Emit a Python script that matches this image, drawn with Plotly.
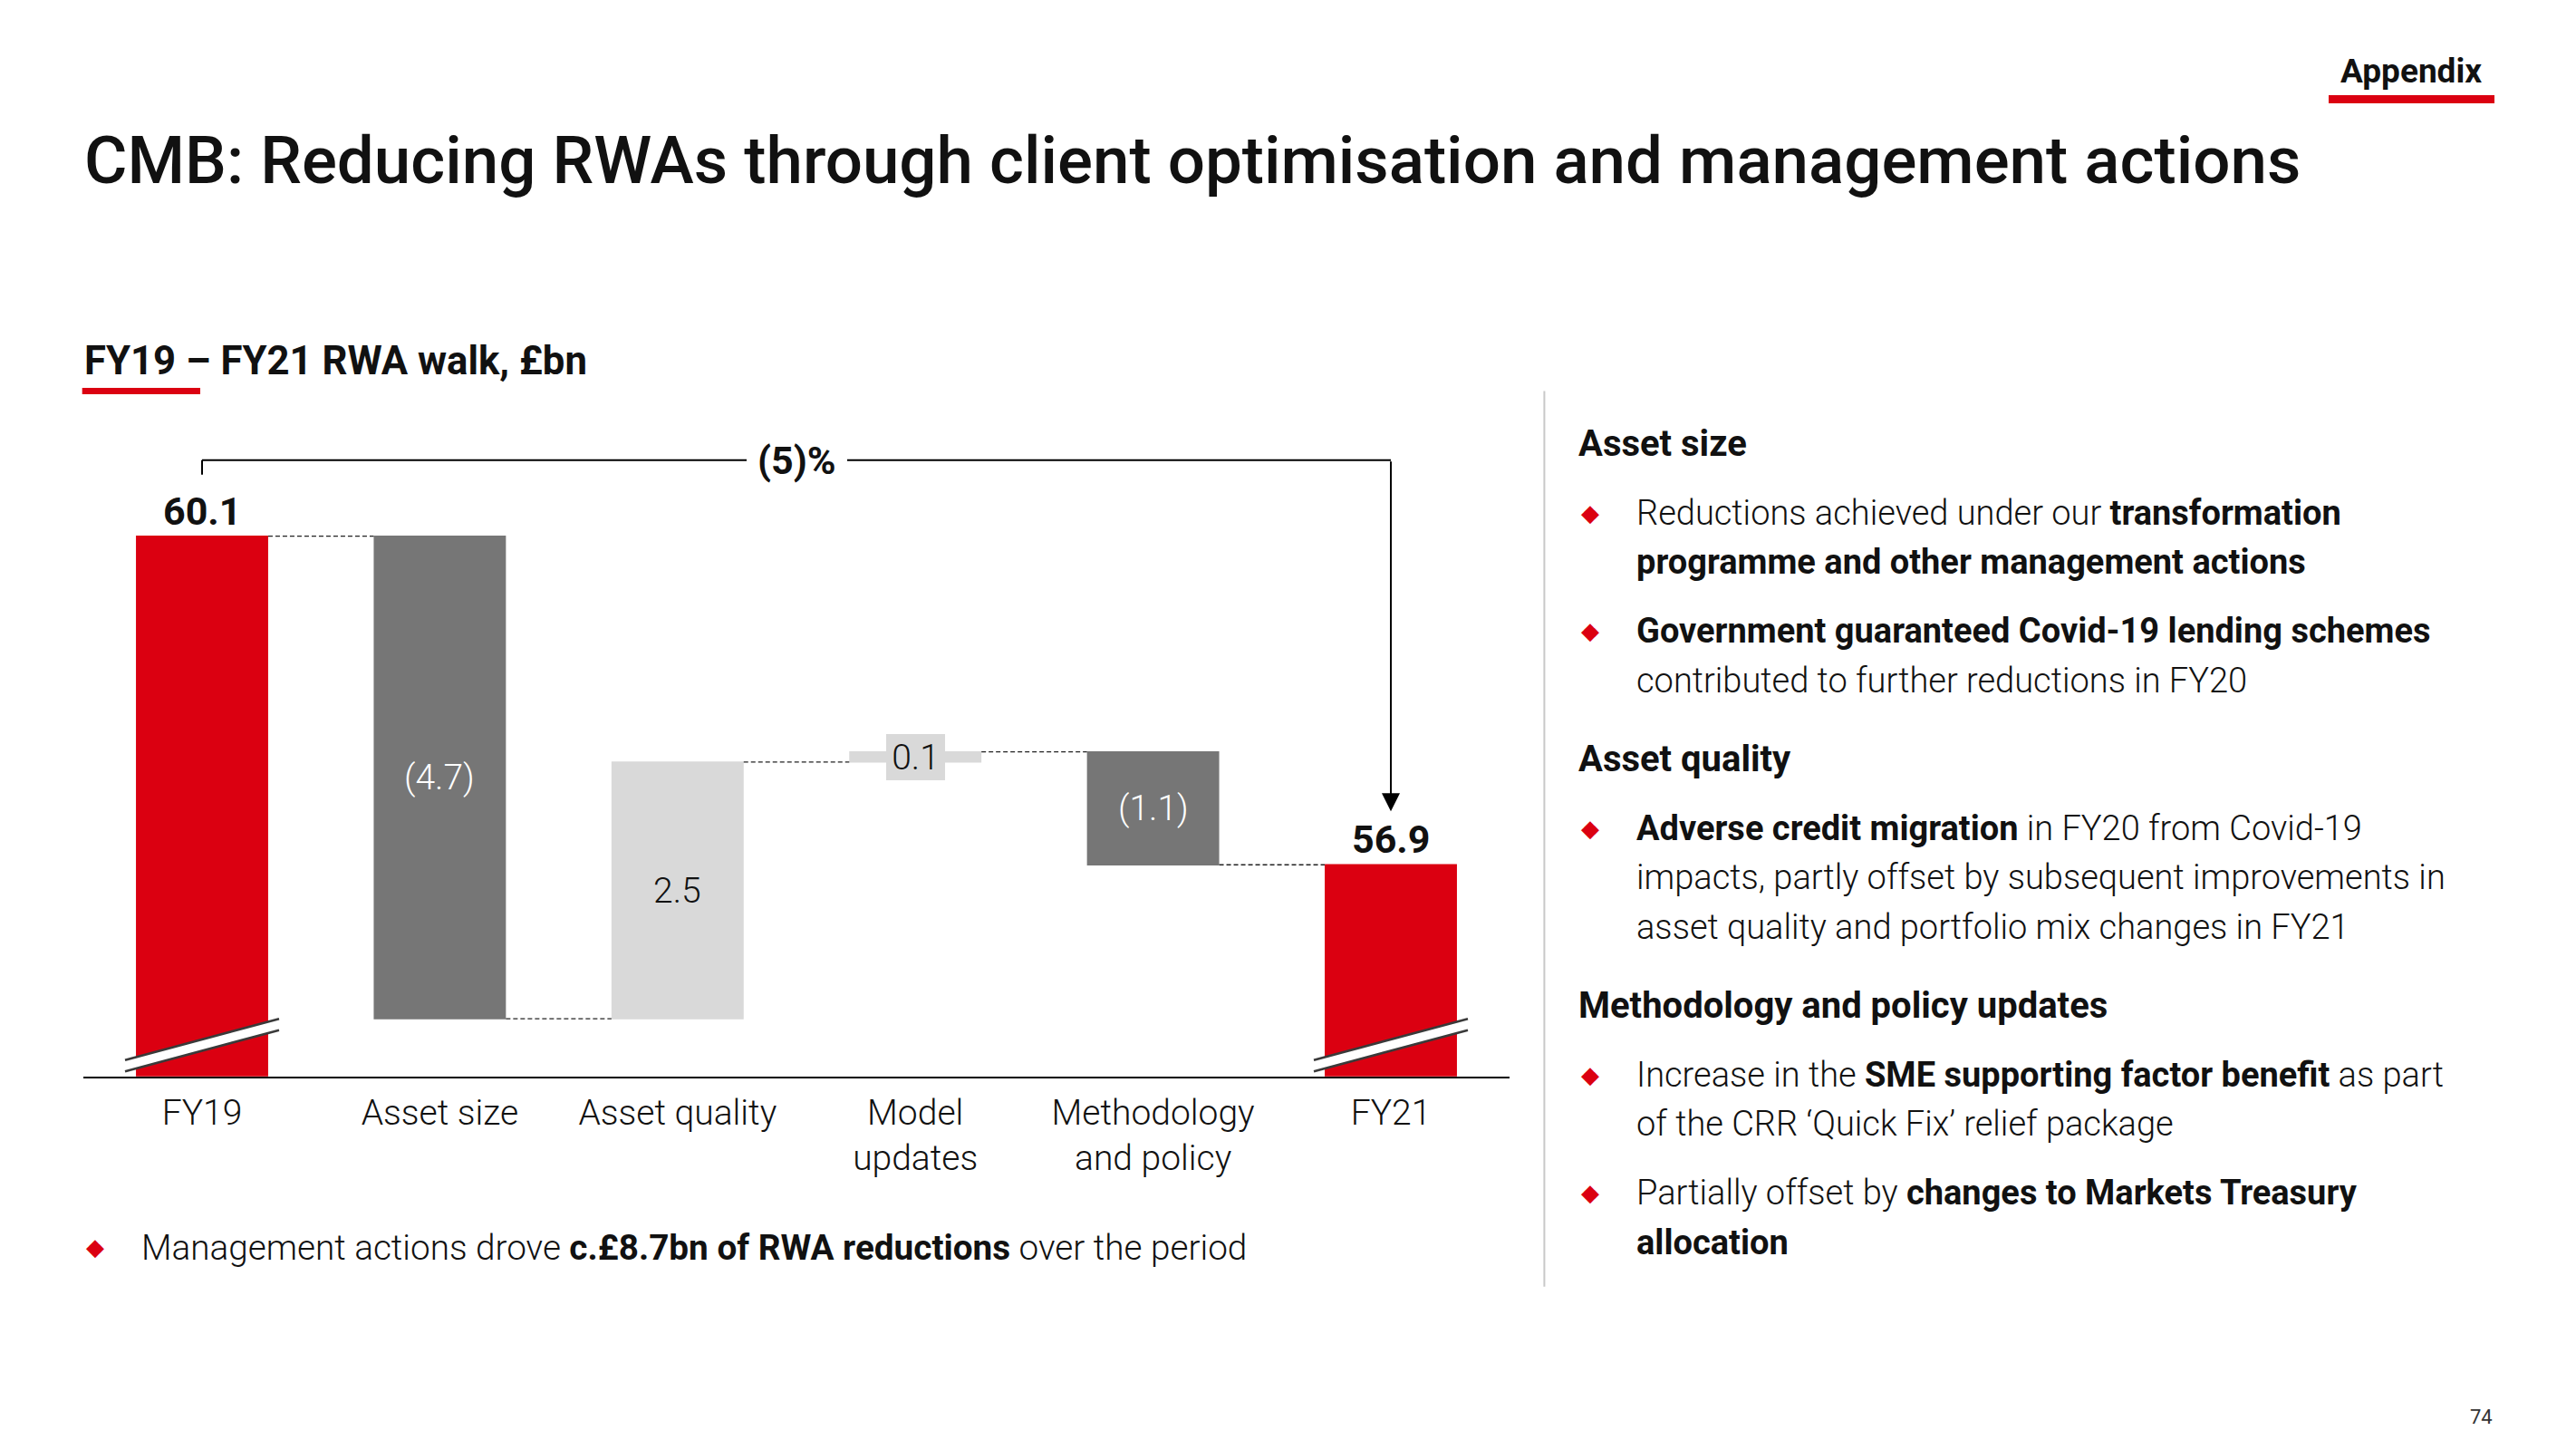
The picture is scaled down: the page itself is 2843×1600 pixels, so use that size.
import plotly.graph_objects as go

# ---------------- data ----------------
categories = ["FY19", "Asset size", "Asset quality", "Model updates", "Methodology and policy", "FY21"]
tick_labels = ["FY19", "Asset size", "Asset quality", "Model<br>updates", "Methodology<br>and policy", "FY21"]
measures = ["absolute", "relative", "relative", "relative", "relative", "total"]
values = [60.1, -4.7, 2.5, 0.1, -1.1, 56.9]
value_labels = ["60.1", "(4.7)", "2.5", "0.1", "(1.1)", "56.9"]
change_label = "(5)%"

title = "CMB: Reducing RWAs through client optimisation and management actions"
subtitle = "FY19 – FY21 RWA walk, £bn"
section_tag = "Appendix"
page_number = "74"
footnote = "Management actions drove <b>c.£8.7bn of RWA reductions</b> over the period"

right_kinds = ["h", "b", "c", "b", "c", "h", "b", "c", "c", "h", "b", "c", "b", "c"]
right_texts = [
    "Asset size",
    "Reductions achieved under our <b>transformation</b>",
    "<b>programme and other management actions</b>",
    "<b>Government guaranteed Covid-19 lending schemes</b>",
    "contributed to further reductions in FY20",
    "Asset quality",
    "<b>Adverse credit migration</b> in FY20 from Covid-19",
    "impacts, partly offset by subsequent improvements in",
    "asset quality and portfolio mix changes in FY21",
    "Methodology and policy updates",
    "Increase in the <b>SME supporting factor benefit</b> as part",
    "of the CRR ‘Quick Fix’ relief package",
    "Partially offset by <b>changes to Markets Treasury</b>",
    "<b>allocation</b>",
]

# ---------------- layout constants (page pixels) ----------------
PAGE_W, PAGE_H = 2843, 1600
OFF = 8  # default body margin of the html page
W, H = PAGE_W - 2 * OFF, PAGE_H - 2 * OFF
FONT = "Roboto, Liberation Sans, Arial, sans-serif"
RED = "#DB0011"
DARK = "#767676"
LIGHT = "#D9D9D9"
TXT = "#111111"

right_y = [489.5, 565.7, 620, 696, 750.6, 837.7, 913.8, 968.2, 1022.6,
           1109.6, 1185.8, 1240.2, 1316.3, 1370.7]

PX_PER_UNIT = 113.3
AXIS_PX = 1187.7
FIRST_TOP_PX = 591.7
PLOT_TOP_PX = 440.0
X0_PX, X1_PX = 91.8, 1666.2

y_lo = values[0] - (AXIS_PX - FIRST_TOP_PX) / PX_PER_UNIT
y_hi = values[0] + (FIRST_TOP_PX - PLOT_TOP_PX) / PX_PER_UNIT


def px(x):
    return (x - OFF) / W


def py(y):
    return 1 - (y - OFF) / H


# bar extents from the data
bottoms, tops = [], []
run = 0.0
for m, v in zip(measures, values):
    if m == "absolute":
        lo, hi = 0.0, v
        run = v
    elif m == "total":
        lo, hi = 0.0, run
    else:
        lo, hi = sorted([run, run + v])
        run += v
    bottoms.append(lo)
    tops.append(hi)

fig = go.Figure()
fig.add_trace(go.Waterfall(
    x=categories, y=values, measure=measures,
    width=[0.556] * len(categories),
    increasing=dict(marker=dict(color=LIGHT, line=dict(width=0))),
    decreasing=dict(marker=dict(color=DARK, line=dict(width=0))),
    totals=dict(marker=dict(color=RED, line=dict(width=0))),
    connector=dict(mode="between", line=dict(color="#222222", width=1.3, dash="5px,3px")),
    textinfo="none", hoverinfo="skip", showlegend=False,
))

annotations = []
shapes = []


def text(x, y, t, size, color=TXT, xanchor="left", weight=300):
    annotations.append(dict(
        xref="paper", yref="paper", x=px(x), y=py(y), text=t, showarrow=False,
        xanchor=xanchor, yanchor="middle",
        font=dict(family=FONT, size=size, color=color, weight=weight)))


# header
text(90.7, 178, title, 72.7, weight=500)
text(2661, 78, f"<b>{section_tag}</b>", 37, xanchor="center")
shapes.append(dict(type="rect", xref="paper", yref="paper",
                   x0=px(2570), x1=px(2753), y0=py(114), y1=py(105),
                   fillcolor=RED, line=dict(width=0)))
text(90.7, 398, f"<b>{subtitle}</b>", 43.7)
shapes.append(dict(type="rect", xref="paper", yref="paper",
                   x0=px(90.7), x1=px(221), y0=py(435), y1=py(428),
                   fillcolor=RED, line=dict(width=0)))
# divider
shapes.append(dict(type="line", xref="paper", yref="paper",
                   x0=px(1704.4), x1=px(1704.4), y0=py(431.5), y1=py(1419.7),
                   line=dict(color="#C8C8C8", width=2)))
# page number
text(2738, 1563, page_number, 22, color="#333333", xanchor="center", weight=400)

# value labels
for i, (m, lab) in enumerate(zip(measures, value_labels)):
    if m in ("absolute", "total"):
        annotations.append(dict(
            xref="x", yref="y", x=i, y=tops[i], yshift=28, text=f"<b>{lab}</b>",
            showarrow=False, xanchor="center", yanchor="middle",
            font=dict(family=FONT, size=43, color=TXT)))
    else:
        mid = (bottoms[i] + tops[i]) / 2
        col = "#FFFFFF" if values[i] < 0 else TXT
        ann = dict(xref="x", yref="y", x=i, y=mid, text=lab, showarrow=False,
                   xanchor="center", yanchor="middle",
                   font=dict(family=FONT, size=39, color=col, weight=300))
        if (tops[i] - bottoms[i]) * PX_PER_UNIT < 40:
            ann.update(bgcolor=LIGHT, width=61, height=47, borderpad=2, borderwidth=0)
        annotations.append(ann)

# axis breaks on the total bars
for i, m in enumerate(measures):
    if m in ("absolute", "total"):
        shapes.append(dict(type="path", xref="x", yref="y", xsizemode="pixel", ysizemode="pixel",
                           xanchor=i, yanchor=y_lo, layer="above",
                           path="M-85,18 L85,63.5 L85,51 L-85,5.5 Z",
                           fillcolor="#FFFFFF", line=dict(width=0)))
        shapes.append(dict(type="path", xref="x", yref="y", xsizemode="pixel", ysizemode="pixel",
                           xanchor=i, yanchor=y_lo, layer="above",
                           path="M-85,18 L85,63.5 M-85,5.5 L85,51",
                           line=dict(color="#3A3A3A", width=2.5)))

# bracket showing the overall change
first_i, last_i = 0, len(categories) - 1
bracket_y = tops[first_i] + 0.74
tick_y = bracket_y - 0.14
tip_y = tops[last_i] + 0.52
shapes.append(dict(type="line", xref="x", yref="y", x0=first_i, x1=first_i, y0=tick_y, y1=bracket_y,
                   line=dict(color="#000", width=2)))
shapes.append(dict(type="line", xref="x", yref="y", x0=first_i, x1=last_i, y0=bracket_y, y1=bracket_y,
                   line=dict(color="#000", width=2)))
annotations.append(dict(xref="x", yref="y", x=last_i, y=tip_y, ax=last_i, ay=bracket_y,
                        axref="x", ayref="y", text="", showarrow=True, arrowhead=2,
                        arrowsize=2.0, arrowwidth=2, arrowcolor="#000", standoff=0))
annotations.append(dict(xref="x", yref="y", x=(first_i + last_i) / 2, y=bracket_y,
                        text=f"<b>{change_label}</b>", showarrow=False, xanchor="center",
                        yanchor="middle", bgcolor="#FFFFFF", borderpad=12, borderwidth=0,
                        font=dict(family=FONT, size=43, color=TXT)))

# footnote under the chart
text(105, 1376, "◆", 26, color=RED, xanchor="center", weight=400)
text(154, 1376, footnote, 38.7)

# right panel
for kind, t, y in zip(right_kinds, right_texts, right_y):
    if kind == "h":
        text(1740, y, f"<b>{t}</b>", 40)
    else:
        if kind == "b":
            text(1755, y, "◆", 26, color=RED, xanchor="center", weight=400)
        text(1804, y, t, 38)

fig.update_layout(
    width=W, height=H, margin=dict(l=0, r=0, t=0, b=0),
    paper_bgcolor="#FFFFFF", plot_bgcolor="#FFFFFF",
    font=dict(family=FONT, color=TXT),
    xaxis=dict(domain=[px(X0_PX), px(X1_PX)], type="category", range=[-0.5, len(categories) - 0.5],
               tickvals=categories, ticktext=tick_labels, showline=True, linecolor="#000",
               linewidth=2, ticks="", showgrid=False, zeroline=False, ticklabelstandoff=4,
               tickfont=dict(family=FONT, size=39, color=TXT, weight=300), fixedrange=True),
    yaxis=dict(domain=[py(AXIS_PX), py(PLOT_TOP_PX)], range=[y_lo, y_hi], visible=False,
               showgrid=False, zeroline=False, fixedrange=True),
    annotations=annotations, shapes=shapes, showlegend=False,
)

fig.write_html("out.html")
